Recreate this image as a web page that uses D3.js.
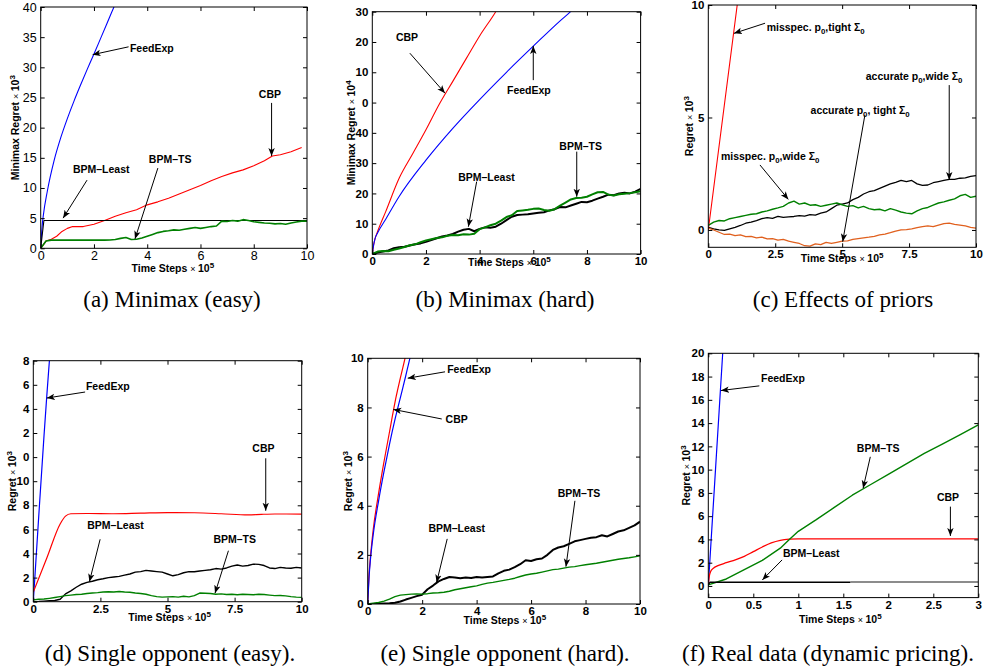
<!DOCTYPE html>
<html>
<head>
<meta charset="utf-8">
<script src="https://cdn.jsdelivr.net/npm/d3@7"></script>
<style>
  body { margin: 0; background: #fff; }
  svg { display: block; }
</style>
</head>
<body>
<svg id="fig" width="985" height="670"></svg>
<script>
// ---------- data ----------
// shared x grid for the noisy curves, time steps x 10^5
const grid = d3.range(0, 51).map(i => i / 5);

// (a) Minimax (easy)
const aFeedExp = [[0,0],[0.05,3.5],[0.1,5.5],[0.25,9.5],[0.5,14.5],[0.75,18.3],[1,21.5],[1.25,24.4],[1.5,27.1],[1.75,29.7],[2,32.2],[2.25,34.8],[2.5,37.4],[2.75,40],[2.85,41]];
const aCBP = [[0,0],[0.2,1.2],[0.4,1.5],[0.6,2.0],[0.8,2.8],[1.0,3.3],[1.2,3.6],[1.6,3.6],[2.0,4.0],[2.4,4.6],[2.8,5.3],[3.2,5.9],[3.6,6.4],[4.0,7.2],[4.4,7.7],[4.8,8.3],[5.2,9.0],[5.6,9.7],[6.0,10.4],[6.4,11.2],[6.8,11.9],[7.2,12.5],[7.6,13.0],[8.0,13.7],[8.4,14.5],[8.7,15.3],[9.0,15.5],[9.4,16.0],[9.8,16.7]];
const aLeast = [[0,0],[0.12,4.6],[10,4.6]];
const aTS = [0,1.2,1.35,1.35,1.35,1.35,1.35,1.35,1.35,1.38,1.36,1.35,1.35,1.38,1.45,1.65,1.8,1.45,1.5,1.7,2.0,2.3,2.6,2.8,2.9,3.05,3.0,3.15,3.3,3.45,3.3,3.45,3.6,3.7,4.5,4.45,4.6,4.5,4.75,4.6,4.4,4.3,4.2,4.15,4.05,4.1,4.0,4.2,4.35,4.5,4.5];

// (b) Minimax (hard)
const bCBP = [[0,0],[0.05,3],[0.1,5],[0.2,7.5],[0.5,14],[1,25],[1.5,33],[2,41],[2.5,49.5],[3,57],[3.5,64.5],[4,72],[4.6,80],[4.7,81.5]];
const bFeedExp = [[0,0],[0.05,3],[0.1,5],[0.2,7],[0.5,11.5],[1,19],[2,31],[3,41.5],[4,51],[5,60],[6,68.6],[7,77],[7.39,80],[7.5,81]];
const bLeast = [0,0.5,0.8,1.2,1.9,2.2,2.4,2.8,3.2,3.5,4.0,4.6,5.2,5.8,6.1,6.6,7.4,8.0,8.3,7.5,8.3,8.8,8.7,9.0,10.0,11.2,12.3,12.9,13.0,13.1,13.4,13.6,13.8,14.4,14.8,15.5,15.4,16.0,16.6,17.2,17.1,17.6,18.3,18.9,19.6,19.4,20.0,20.2,20.0,20.6,21.5];
const bTS = [0,0.8,1.0,0.9,1.4,1.8,2.3,2.9,3.2,3.9,4.5,4.9,5.3,5.5,6.0,6.3,6.2,6.5,6.4,6.7,8.2,8.8,9.5,10.0,11.0,12.2,12.8,14.2,14.4,14.6,14.9,15.0,14.5,14.3,14.8,16.0,17.0,18.0,18.5,18.6,18.9,19.7,20.4,20.5,19.6,19.3,19.7,19.9,20.1,20.4,20.7];
const bTickLabels = ["0","10","20","30","40","0","10","20","30"];

// (c) Effects of priors
const cMisTight = [[0,0],[1.08,10],[1.2,11.1]];
const cAccWide = [0.12,0.05,0.0,-0.02,0.05,0.12,0.2,0.3,0.35,0.42,0.5,0.55,0.52,0.6,0.56,0.58,0.6,0.64,0.62,0.68,0.66,0.75,0.8,0.95,1.1,1.15,1.2,1.35,1.45,1.6,1.7,1.75,1.85,1.95,2.05,2.12,2.2,2.15,2.2,2.05,1.98,2.0,2.1,2.15,2.2,2.25,2.25,2.3,2.32,2.38,2.42];
const cMisWide = [0.2,0.35,0.42,0.4,0.5,0.55,0.6,0.65,0.7,0.72,0.8,0.85,0.92,0.98,1.05,1.2,1.28,1.15,1.2,1.1,1.12,1.05,1.1,1.15,1.2,1.12,1.05,1.08,0.98,1.05,0.95,0.9,0.92,0.85,0.95,0.88,0.8,0.75,0.72,0.85,0.95,1.0,1.1,1.2,1.25,1.32,1.38,1.52,1.58,1.45,1.5];
const cAccTight = [0.08,0.0,-0.1,-0.2,-0.18,-0.25,-0.22,-0.3,-0.28,-0.35,-0.32,-0.4,-0.38,-0.45,-0.42,-0.5,-0.55,-0.6,-0.7,-0.72,-0.62,-0.65,-0.55,-0.6,-0.55,-0.5,-0.48,-0.42,-0.38,-0.35,-0.32,-0.28,-0.22,-0.18,-0.12,-0.05,0.0,0.02,0.05,0.1,0.15,0.18,0.15,0.22,0.28,0.3,0.25,0.22,0.18,0.12,0.08];

// (d) Single opponent (easy)
const dFeedExp = [[0,0],[0.2,7],[0.4,13.8],[0.5,17],[0.6,20],[0.65,21.5]];
const dCBP = [[0,0.8],[0.5,3.6],[1,6.45],[1.2,7.1],[1.4,7.3],[2,7.32],[3,7.3],[4,7.35],[5,7.4],[6,7.38],[7,7.3],[8,7.2],[8.5,7.25],[9,7.28],[10,7.27]];
const dLeast = [0,0.02,0.05,0.08,0.1,0.2,0.65,0.9,1.2,1.45,1.6,1.7,1.82,1.9,2.0,2.05,2.1,2.2,2.3,2.45,2.5,2.6,2.55,2.5,2.45,2.3,2.15,2.25,2.4,2.5,2.48,2.55,2.6,2.65,2.75,2.7,2.8,2.95,3.05,2.95,3.0,3.12,3.1,3.0,2.8,2.75,2.85,2.8,2.78,2.85,2.8];
const dTS = [0.15,0.2,0.22,0.28,0.35,0.42,0.5,0.55,0.6,0.62,0.68,0.72,0.75,0.8,0.82,0.8,0.85,0.8,0.78,0.72,0.68,0.62,0.5,0.42,0.38,0.4,0.42,0.38,0.45,0.4,0.5,0.72,0.7,0.68,0.62,0.65,0.6,0.62,0.58,0.62,0.6,0.58,0.62,0.6,0.55,0.5,0.52,0.48,0.42,0.38,0.36];
const dTickLabels = ["0","2","4","6","8","10","0","2","4","6","8"];

// (e) Single opponent (hard)
const eCBP = [[0,0],[0.05,1.2],[0.1,1.9],[0.2,3],[0.4,4.5],[0.6,5.8],[0.8,7],[1,8.2],[1.2,9.2],[1.37,10],[1.45,10.4]];
const eFeedExp = [[0,0],[0.05,1.1],[0.1,1.8],[0.2,2.8],[0.4,4.2],[0.6,5.4],[0.8,6.5],[1,7.5],[1.2,8.4],[1.4,9.3],[1.55,10],[1.62,10.3]];
const eLeast = [0,0.0,0.01,0.02,0.03,0.05,0.1,0.18,0.25,0.32,0.38,0.6,0.75,0.92,1.02,1.1,1.08,1.05,1.08,1.06,1.1,1.08,1.1,1.12,1.25,1.35,1.4,1.5,1.62,1.78,1.75,1.82,1.85,2.0,2.2,2.3,2.35,2.45,2.55,2.6,2.65,2.7,2.72,2.8,2.75,2.85,2.95,3.0,3.1,3.2,3.35];
const eTS = [0,0.03,0.06,0.12,0.2,0.3,0.36,0.38,0.4,0.41,0.4,0.42,0.45,0.46,0.48,0.52,0.58,0.62,0.66,0.7,0.74,0.8,0.85,0.88,0.92,0.96,1.0,1.05,1.12,1.18,1.22,1.25,1.3,1.35,1.4,1.42,1.46,1.5,1.52,1.56,1.6,1.63,1.66,1.7,1.74,1.78,1.82,1.85,1.88,1.92,1.96];

// (f) Real data (dynamic pricing)
const fFeedExp = [[0,0],[0.04,5],[0.08,10],[0.12,15],[0.16,20],[0.17,21.5]];
const fCBP = [[0,0.1],[0.01,0.8],[0.03,1.3],[0.06,1.55],[0.1,1.72],[0.2,2.0],[0.3,2.25],[0.4,2.55],[0.5,2.95],[0.6,3.35],[0.7,3.7],[0.8,3.92],[0.9,4.02],[1,4.05],[3,4.05]];
const fTS = [[0,0.1],[0.2,0.6],[0.4,1.4],[0.6,2.2],[0.8,3.25],[0.9,4.0],[1,4.7],[1.2,5.7],[1.4,6.75],[1.6,7.8],[1.8,8.7],[2,9.6],[2.2,10.5],[2.4,11.4],[2.6,12.2],[2.8,13.0],[3,13.84]];
const fLeast = [[0,0.1],[0.02,0.32],[1.58,0.32]];
const fLeastTail = [[1.58,0.34],[3,0.34]];

// ---------- drawing ----------
const svg = d3.select("#fig");
const defs = svg.append("defs");
defs.append("marker").attr("id", "ah")
  .attr("viewBox", "0 0 10 10").attr("refX", 10).attr("refY", 5)
  .attr("markerWidth", 8).attr("markerHeight", 8)
  .attr("markerUnits", "userSpaceOnUse").attr("orient", "auto")
  .append("path").attr("d", "M0,1 L10,5 L0,9 L2.5,5 Z").attr("fill", "#000");

const SANS = "'Liberation Sans', Arial, Helvetica, sans-serif";
const onGrid = ys => ys.map((v, i) => [grid[i], v]);

// writes "p_0" style text as tspans (subscript digit after "_")
function richText(sel, str, size) {
  let shift = 0;
  str.split(/(_\d)/).forEach(part => {
    if (!part) return;
    if (part[0] === "_") {
      sel.append("tspan").attr("dy", 3 - shift).attr("font-size", size * 0.75).text(part.slice(1));
      shift = 3;
    } else {
      sel.append("tspan").attr("dy", -shift).text(part);
      shift = 0;
    }
  });
}

function axisLabel(sel, main, sup) {
  sel.append("tspan").text(main + " ");
  sel.append("tspan").attr("font-weight", "normal").attr("font-size", 9).text("\u00d7 ");
  sel.append("tspan").text("10");
  sel.append("tspan").attr("dy", -4).attr("font-size", 8).text(sup);
}

function panel(p, idx) {
  const g = svg.append("g");
  const x = d3.scaleLinear().domain(p.xd).range([p.l, p.r]);
  const y = d3.scaleLinear().domain(p.yd).range([p.b, p.t]);

  defs.append("clipPath").attr("id", "clip" + idx)
    .append("rect").attr("x", p.l).attr("y", p.t).attr("width", p.r - p.l).attr("height", p.b - p.t);

  p.series.forEach(s => {
    const line = d3.line().x(d => x(d[0])).y(d => y(d[1]))
      .curve(s.smooth ? d3.curveMonotoneX : d3.curveLinear);
    g.append("path").datum(s.pts)
      .attr("clip-path", `url(#clip${idx})`)
      .attr("d", line)
      .attr("fill", "none")
      .attr("stroke", s.color)
      .attr("stroke-width", s.w)
      .attr("stroke-linejoin", "round");
  });

  const fw = p.tickBold ? "bold" : "normal";
  const fs = p.tickSize;
  const style = a => a.attr("font-family", SANS).attr("font-size", fs).attr("font-weight", fw)
    .call(s => s.select(".domain").remove())
    .call(s => s.selectAll(".tick line").attr("stroke", "#000"));

  g.append("g").attr("transform", `translate(0,${p.b})`)
    .call(d3.axisBottom(x).tickValues(p.xt).tickFormat((d, i) => p.xlab[i]).tickSizeInner(-4).tickSizeOuter(0).tickPadding(3))
    .call(style);
  g.append("g").attr("transform", `translate(${p.l},0)`)
    .call(d3.axisLeft(y).tickValues(p.yt).tickFormat((d, i) => p.ylab[i]).tickSizeInner(-4).tickSizeOuter(0).tickPadding(4))
    .call(style);
  g.append("g").attr("transform", `translate(0,${p.t})`)
    .call(d3.axisTop(x).tickValues(p.xt).tickFormat("").tickSizeInner(-4).tickSizeOuter(0))
    .call(style);
  g.append("g").attr("transform", `translate(${p.r},0)`)
    .call(d3.axisRight(y).tickValues(p.yt).tickFormat("").tickSizeInner(-4).tickSizeOuter(0))
    .call(style);

  g.append("rect").attr("x", p.l).attr("y", p.t).attr("width", p.r - p.l).attr("height", p.b - p.t)
    .attr("fill", "none").attr("stroke", "#000").attr("stroke-width", 1);

  // axis titles
  g.append("text").attr("font-family", SANS).attr("font-weight", "bold").attr("font-size", 10.5)
    .attr("text-anchor", "middle")
    .attr("transform", `translate(${p.l - p.yOff},${(p.t + p.b) / 2}) rotate(-90)`)
    .attr("dy", "0.35em")
    .call(axisLabel, p.ytitle, p.ysup);
  g.append("text").attr("font-family", SANS).attr("font-weight", "bold").attr("font-size", 10.5)
    .attr("text-anchor", "middle")
    .attr("x", (p.l + p.r) / 2 + p.xShift).attr("y", p.b + p.xOff)
    .call(axisLabel, "Time Steps", "5");

  // arrows + labels
  p.notes.forEach(n => {
    g.append("line")
      .attr("x1", x(n.from[0])).attr("y1", y(n.from[1]))
      .attr("x2", x(n.to[0])).attr("y2", y(n.to[1]))
      .attr("stroke", "#000").attr("stroke-width", 1)
      .attr("marker-end", "url(#ah)");
    g.append("text").attr("font-family", SANS).attr("font-weight", "bold").attr("font-size", 10.5)
      .attr("x", x(n.at[0])).attr("y", y(n.at[1]))
      .call(richText, n.label, 10.5);
  });

  // caption
  svg.append("text").attr("font-family", "'Liberation Serif', 'Times New Roman', serif")
    .attr("font-size", 23).attr("text-anchor", "middle")
    .attr("x", p.capX).attr("y", p.capY).text(p.caption);
}

const BLUE = "#0000ff", RED = "#ff0000", GREEN = "#008000", BLACK = "#000", ORANGE = "#e0601e";
const ten = [0, 2, 4, 6, 8, 10];

const panels = [
  { l: 40.7, r: 307, t: 7, b: 248.3, xd: [0, 10], yd: [0, 40],
    xt: ten, xlab: ten.map(String), yt: d3.range(0, 41, 5), ylab: d3.range(0, 41, 5).map(String),
    tickBold: false, tickSize: 12.5, ytitle: "Minimax Regret", ysup: "3", yOff: 25, xOff: 23.7, xShift: -1,
    series: [
      { pts: aFeedExp, color: BLUE, w: 1.1, smooth: true },
      { pts: aCBP, color: RED, w: 1.1 },
      { pts: aLeast, color: BLACK, w: 1.1 },
      { pts: onGrid(aTS), color: GREEN, w: 1.6 }],
    notes: [
      { label: "FeedExp", at: [3.35, 32.6], from: [3.3, 33.4], to: [1.95, 32.1] },
      { label: "CBP", at: [8.19, 24.9], from: [8.67, 24.1], to: [8.67, 15.3] },
      { label: "BPM\u2013Least", at: [1.21, 12.5], from: [1.74, 11.3], to: [0.84, 5.0] },
      { label: "BPM\u2013TS", at: [4.06, 14.1], from: [4.4, 13.3], to: [3.54, 1.55] }],
    caption: "(a) Minimax (easy)", capX: 172, capY: 307 },
  { l: 372.3, r: 640.6, t: 11.7, b: 254, xd: [0, 10], yd: [0, 80],
    xt: ten, xlab: ten.map(String), yt: d3.range(0, 81, 10), ylab: bTickLabels,
    tickBold: true, tickSize: 11.5, ytitle: "Minimax Regret", ysup: "4", yOff: 20.6, xOff: 11.5, xShift: 3,
    series: [
      { pts: bCBP, color: RED, w: 1.1, smooth: true },
      { pts: bFeedExp, color: BLUE, w: 1.1, smooth: true },
      { pts: onGrid(bLeast), color: BLACK, w: 2 },
      { pts: onGrid(bTS), color: GREEN, w: 2 }],
    notes: [
      { label: "CBP", at: [0.88, 70.3], from: [1.4, 66.3], to: [2.71, 53.1] },
      { label: "FeedExp", at: [5.02, 52.8], from: [6.0, 57.4], to: [6.0, 68.7] },
      { label: "BPM\u2013Least", at: [3.2, 24.1], from: [3.89, 23.9], to: [3.58, 9.0] },
      { label: "BPM\u2013TS", at: [6.97, 34.3], from: [7.62, 33.8], to: [7.62, 18.9] }],
    caption: "(b) Minimax (hard)", capX: 505, capY: 307 },
  { l: 708.3, r: 976, t: 5, b: 247.3, xd: [0, 10], yd: [-0.77, 10],
    xt: [0, 2.5, 5, 7.5, 10], xlab: ["0", "2.5", "5", "7.5", "10"], yt: [0, 5, 10], ylab: ["0", "5", "10"],
    tickBold: true, tickSize: 11.5, ytitle: "Regret", ysup: "3", yOff: 19.3, xOff: 14.7, xShift: 0,
    series: [
      { pts: cMisTight, color: RED, w: 1.1 },
      { pts: onGrid(cAccWide), color: BLACK, w: 1.3 },
      { pts: onGrid(cMisWide), color: GREEN, w: 1.4 },
      { pts: onGrid(cAccTight), color: ORANGE, w: 1.3 }],
    notes: [
      { label: "misspec. p_0,tight \u03a3_0", at: [2.18, 8.84], from: [2.12, 9.19], to: [0.96, 8.74] },
      { label: "accurate p_0,wide \u03a3_0", at: [5.88, 6.67], from: [9.0, 6.44], to: [9.0, 2.22] },
      { label: "accurate p_0, tight \u03a3_0", at: [3.82, 5.16], from: [5.85, 5.11], to: [5.02, -0.52] },
      { label: "misspec. p_0,wide \u03a3_0", at: [0.47, 3.11], from: [1.93, 2.89], to: [2.99, 1.36] }],
    caption: "(c) Effects of priors", capX: 843, capY: 307 },
  { l: 33.3, r: 301.7, t: 360.7, b: 601.7, xd: [0, 10], yd: [0, 20],
    xt: [0, 2.5, 5, 7.5, 10], xlab: ["0", "2.5", "5", "7.5", "10"], yt: d3.range(0, 21, 2), ylab: dTickLabels,
    tickBold: true, tickSize: 11.5, ytitle: "Regret", ysup: "3", yOff: 20.6, xOff: 19, xShift: 2,
    series: [
      { pts: dFeedExp, color: BLUE, w: 1.2, smooth: true },
      { pts: dCBP, color: RED, w: 1.2, smooth: true },
      { pts: onGrid(dLeast), color: BLACK, w: 1.4 },
      { pts: onGrid(dTS), color: GREEN, w: 1.4 }],
    notes: [
      { label: "FeedExp", at: [1.96, 17.6], from: [1.93, 17.4], to: [0.5, 16.9] },
      { label: "CBP", at: [8.16, 12.4], from: [8.66, 11.9], to: [8.66, 7.55] },
      { label: "BPM\u2013Least", at: [2.01, 6.0], from: [2.49, 5.18], to: [2.09, 1.66] },
      { label: "BPM\u2013TS", at: [6.71, 4.9], from: [7.27, 4.23], to: [6.77, 0.7] }],
    caption: "(d) Single opponent (easy).", capX: 170, capY: 661 },
  { l: 367.7, r: 640, t: 358.3, b: 604, xd: [0, 10], yd: [0, 10],
    xt: ten, xlab: ten.map(String), yt: ten, ylab: ten.map(String),
    tickBold: true, tickSize: 11.5, ytitle: "Regret", ysup: "3", yOff: 19.4, xOff: 20, xShift: 1,
    series: [
      { pts: eCBP, color: RED, w: 1.2, smooth: true },
      { pts: eFeedExp, color: BLUE, w: 1.2, smooth: true },
      { pts: onGrid(eLeast), color: BLACK, w: 2 },
      { pts: onGrid(eTS), color: GREEN, w: 1.4 }],
    notes: [
      { label: "FeedExp", at: [2.92, 9.41], from: [2.84, 9.45], to: [1.47, 9.19] },
      { label: "CBP", at: [2.86, 7.38], from: [2.72, 7.53], to: [0.94, 7.92] },
      { label: "BPM\u2013Least", at: [2.23, 2.94], from: [2.92, 2.65], to: [2.53, 0.87] },
      { label: "BPM\u2013TS", at: [6.98, 4.35], from: [7.61, 4.2], to: [7.28, 1.52] }],
    caption: "(e) Single opponent (hard).", capX: 505, capY: 661 },
  { l: 708.3, r: 978.3, t: 353.3, b: 597.6, xd: [0, 3], yd: [-1, 20],
    xt: d3.range(0, 3.01, 0.5), xlab: ["0", "0.5", "1", "1.5", "2", "2.5", "3"], yt: d3.range(0, 21, 2), ylab: d3.range(0, 21, 2).map(String),
    tickBold: true, tickSize: 11.5, ytitle: "Regret", ysup: "3", yOff: 21.6, xOff: 25.4, xShift: -3,
    series: [
      { pts: fFeedExp, color: BLUE, w: 1.2 },
      { pts: fCBP, color: RED, w: 1.3, smooth: true },
      { pts: fTS, color: GREEN, w: 1.4 },
      { pts: fLeast, color: BLACK, w: 1.3 },
      { pts: fLeastTail, color: "#666", w: 1.3 }],
    notes: [
      { label: "FeedExp", at: [0.586, 17.5], from: [0.567, 17.2], to: [0.141, 16.8] },
      { label: "BPM\u2013TS", at: [1.65, 11.55], from: [1.8, 11.1], to: [1.72, 8.4] },
      { label: "CBP", at: [2.54, 7.3], from: [2.69, 6.82], to: [2.69, 4.3] },
      { label: "BPM\u2013Least", at: [0.83, 2.5], from: [0.82, 2.24], to: [0.6, 0.52] }],
    caption: "(f) Real data (dynamic pricing).", capX: 828, capY: 661 }
];

panels.forEach(panel);
</script>
</body>
</html>
